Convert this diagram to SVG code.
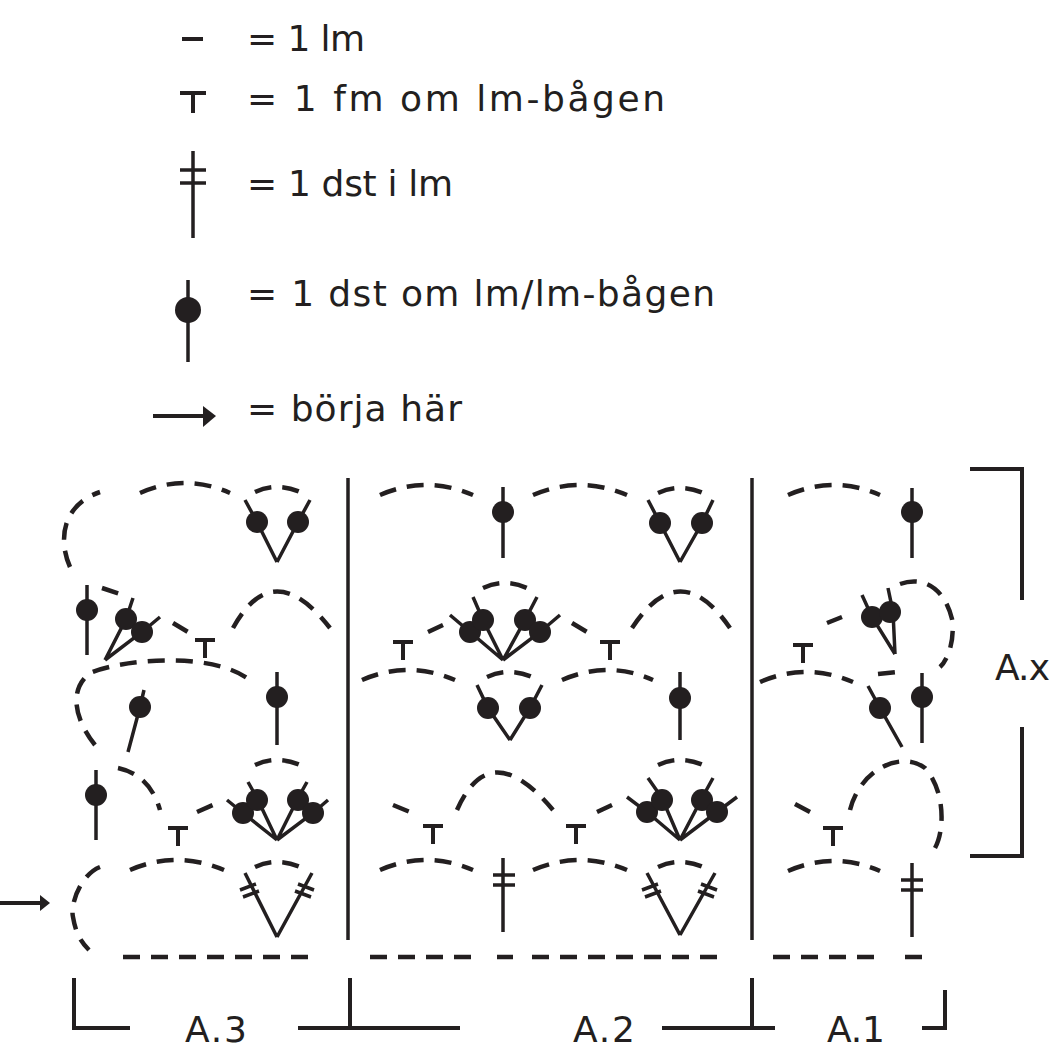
<svg xmlns="http://www.w3.org/2000/svg" width="1058" height="1057" viewBox="0 0 1058 1057">
<style>
.t{font-family:"DejaVu Sans","Liberation Sans",sans-serif;font-size:36px;fill:#231f20}
.s{stroke:#231f20;stroke-width:3.5;fill:none}
.b{stroke:#231f20;stroke-width:4;fill:none}
.d{stroke:#231f20;stroke-width:4.5;fill:none;stroke-dasharray:17 11}
.c{fill:#231f20}
</style>
<rect width="1058" height="1057" fill="#fff"/>
<g id="legend">
<line class="b" x1="182" y1="39" x2="203" y2="39"/>
<text class="t" x="247" y="51" textLength="118">= 1 lm</text>
<path class="b" d="M180 93H206M193 93V113"/>
<text class="t" x="247" y="111" textLength="418">= 1 fm om lm-bågen</text>
<path class="s" d="M193 151V238M180 170H206M180 183H206"/>
<text class="t" x="247" y="196" textLength="206">= 1 dst i lm</text>
<path class="s" d="M188 280V362"/><circle class="c" cx="188" cy="310" r="13"/>
<text class="t" x="247" y="306" textLength="468">= 1 dst om lm/lm-bågen</text>
<path class="b" d="M153 416H205"/><path class="c" d="M203 406L216 416L203 427Z"/>
<text class="t" x="247" y="421" textLength="215">= börja här</text>
</g>
<g id="frame">
<path class="s" d="M348 478V940M752 478V940"/>
<path class="b" d="M74 978V1028H130M298 1028H460M350 978V1028M662 1028H775M752 978V1028M922 1028H945V990"/>
<path class="b" d="M970 469H1022V600M1022 727V856H970"/>
<path class="b" d="M0 903H42"/><path class="c" d="M40 895L50 903L40 911Z"/>
<text class="t" x="185" y="1042" textLength="62">A.3</text>
<text class="t" x="573" y="1042" textLength="62">A.2</text>
<text class="t" x="827" y="1042" textLength="58">A.1</text>
<text class="t" x="995" y="680" textLength="55">A.x</text>
</g>
<g id="chains">
<path class="d" d="M123 957H312M370 957H472M497 957H513M532 957H720M773 957H877M905 957H922"/>
<path class="d" d="M100 867C80 875 70 905 73 917C76 935 82 943 89 950"/>
<path class="d" d="M130 870Q176 850 224 870M255 867Q277 857 300 867"/>
<path class="d" d="M380 870Q426 850 473 870M533 870Q580 850 627 870M658 867Q680 857 703 867"/>
<path class="d" d="M788 871Q834 851 880 871"/>
<path class="d" d="M118 768Q150 775 160 810M197 812L215 804M255 765Q277 755 300 765"/>
<path class="d" d="M393 805L410 812M457 810Q490 735 553 810M597 812L612 805M658 765Q680 755 703 765"/>
<path class="d" d="M795 804L810 812M850 810C860 770 900 750 925 768C945 790 945 830 935 848"/>
<path class="d" d="M95 745C75 720 68 690 90 673C120 660 210 650 250 680"/>
<path class="d" d="M362 680Q408 660 455 680M487 677Q509 667 532 677M562 680Q608 660 653 680"/>
<path class="d" d="M760 682Q806 662 853 682M878 674L897 672"/>
<path class="d" d="M102 588L120 594M173 623L188 632M233 628Q273 555 330 628"/>
<path class="d" d="M428 632L443 625M483 588Q505 578 527 588M572 623L587 632M632 628Q680 555 730 628"/>
<path class="d" d="M827 623L842 617M900 584C925 575 945 590 952 619C955 640 948 660 940 667"/>
<path class="d" d="M70 567C58 540 62 505 100 492M140 493Q185 473 230 493M255 492Q277 482 300 492"/>
<path class="d" d="M380 495Q426 475 473 495M533 495Q580 475 627 495M658 493Q680 483 703 493"/>
<path class="d" d="M788 495Q834 475 880 495"/>
</g>
<g id="fm">
<path class="b" d="M168 828H188M178 828V846M423 826H443M433 826V844M566 826H586M576 826V844M823 828H843M833 828V846M195 640H215M205 640V658M393 642H413M403 642V660M600 642H620M610 642V660M793 645H813M803 645V663"/>
</g>
<g id="dst">
<path class="s" d="M277 937L245 873M277 937L312 873M240 890L256 884M243 897L259 891M298 884L314 890M295 891L311 897"/>
<path class="s" d="M503 858V932M493 875H515M493 885H515"/>
<path class="s" d="M680 935L647 873M680 935L715 873M642 890L658 884M645 897L661 891M701 884L717 890M698 891L714 897"/>
<path class="s" d="M912 863V937M901 880H923M901 890H923"/>
</g>
<g id="dots">
<path class="s" d="M96 770V840M277 840L243 813L227 800M277 840L257 798L248 782M277 840L298 798L307 782M277 840L313 813L328 800"/>
<path class="s" d="M680 840L647 812L627 797M680 840L662 798L648 778M680 840L702 798L713 778M680 840L717 812L737 797"/>
<path class="s" d="M128 752L140 707L144 690M277 672V745M510 740L488 708L477 685M510 740L530 708L542 685M680 672V740M902 747L880 708L868 686M922 673V743"/>
<path class="s" d="M87 585V655M105 660L126 619L133 598M105 660L142 632L160 617M503 660L470 632L450 615M503 660L483 620L473 597M503 660L525 620L537 597M503 660L540 632L560 615M895 654L872 617L862 595M895 654L893 612L888 588"/>
<path class="s" d="M277 562L257 522L245 500M277 562L298 522L310 500M503 487V558M680 562L660 523L648 500M680 562L702 523L713 500M912 488V558"/>
<g class="c">
<circle cx="96" cy="795" r="11"/><circle cx="243" cy="813" r="11"/><circle cx="257" cy="800" r="11"/><circle cx="298" cy="800" r="11"/><circle cx="313" cy="813" r="11"/>
<circle cx="647" cy="812" r="11"/><circle cx="662" cy="800" r="11"/><circle cx="702" cy="800" r="11"/><circle cx="717" cy="812" r="11"/>
<circle cx="140" cy="707" r="11"/><circle cx="277" cy="697" r="11"/><circle cx="488" cy="708" r="11"/><circle cx="530" cy="708" r="11"/><circle cx="680" cy="698" r="11"/><circle cx="880" cy="708" r="11"/><circle cx="922" cy="697" r="11"/>
<circle cx="87" cy="610" r="11"/><circle cx="126" cy="619" r="11"/><circle cx="142" cy="632" r="11"/><circle cx="470" cy="632" r="11"/><circle cx="483" cy="620" r="11"/><circle cx="525" cy="620" r="11"/><circle cx="540" cy="632" r="11"/><circle cx="872" cy="617" r="11"/><circle cx="890" cy="612" r="11"/>
<circle cx="257" cy="522" r="11"/><circle cx="298" cy="522" r="11"/><circle cx="503" cy="512" r="11"/><circle cx="660" cy="523" r="11"/><circle cx="702" cy="523" r="11"/><circle cx="912" cy="512" r="11"/>
</g>
</g>
</svg>
